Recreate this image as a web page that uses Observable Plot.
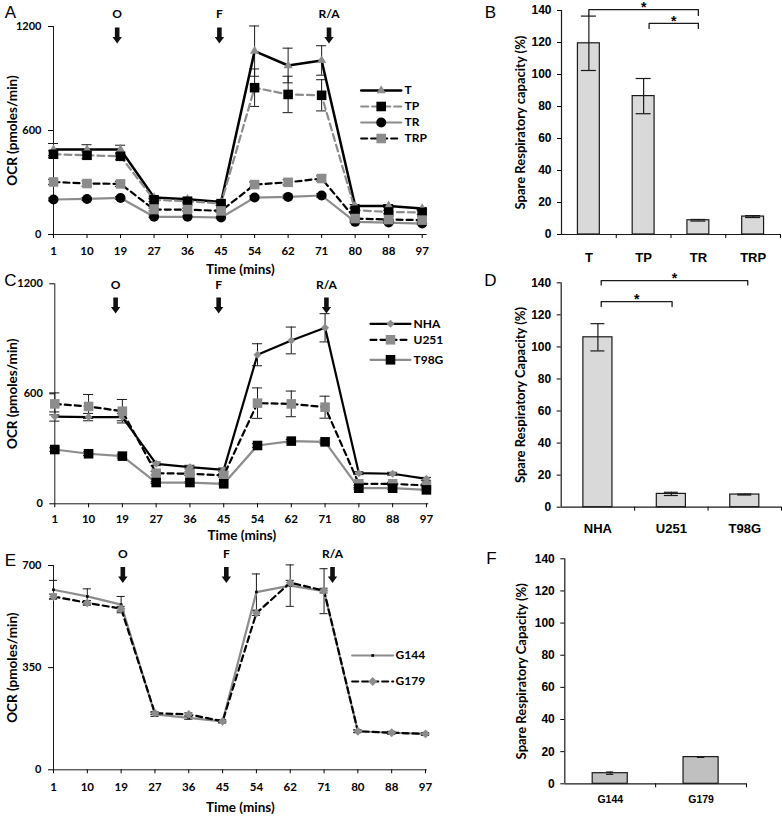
<!DOCTYPE html>
<html><head><meta charset="utf-8">
<script src="https://cdn.jsdelivr.net/npm/d3@7"></script>
<script src="https://cdn.jsdelivr.net/npm/@observablehq/plot@0.6"></script>
<style>
body{margin:0;background:#fff;}
#root{position:relative;width:782px;height:817px;overflow:hidden;background:#fff;}
.panel{position:absolute;}
</style></head><body><div id="root"></div>
<script>
// ---------- DATA ----------
const times = ["1","10","19","27","36","45","54","62","71","80","88","97"];
const arrowLabels = ["O","F","R/A"];

// Panel A
const namesA = ["T","TP","TR","TRP"];
const ocrA_T   = [490,490,490,213,203,188,1058,975,1004,165,165,150];
const ocrA_TP  = [463,457,451,200,192,178,847,808,803,140,130,127];
const ocrA_TR  = [202,205,211,102,102,98,213,217,225,73,69,63];
const ocrA_TRP = [303,294,292,144,144,136,288,301,323,92,86,83];
const errA_T   = [35,28,25,8,8,8,145,100,85,8,8,6];
const errA_TP  = [20,20,20,10,10,10,108,105,90,10,10,10];
const errA_TR  = [8,8,8,5,5,5,10,10,10,5,5,5];
const errA_TRP = [15,15,15,8,8,8,15,15,15,5,5,5];
const arrowPosA = [1.9,4.95,8.22];

// Panel B
const catsB = ["T","TP","TR","TRP"];
const srcB = [119.5,86.5,8.9,11.2];
const errB = [17,11,0.5,0.6];

// Panel C
const namesC = ["NHA","U251","T98G"];
const ocrC_NHA  = [476,473,473,218,200,185,813,891,960,167,164,136];
const ocrC_U251 = [545,531,505,167,164,155,549,545,527,109,109,100];
const ocrC_T98G = [296,273,260,116,116,109,318,342,338,85,85,76];
const errC_NHA  = [25,20,20,10,10,10,60,73,77,8,8,8];
const errC_U251 = [60,65,64,10,10,10,83,70,60,8,8,8];
const errC_T98G = [10,10,10,5,5,5,10,10,10,5,5,5];
const arrowPosC = [1.80,4.85,8.04];

// Panel D
const catsD = ["NHA","U251","T98G"];
const srcD = [106,8.3,7.9];
const errD = [8.5,1,0.3];

// Panel E
const namesE = ["G144","G179"];
const ocrE_G144 = [617,594,566,190,178,166,609,631,612,132,127,123];
const ocrE_G179 = [594,572,552,194,190,166,537,641,614,132,127,123];
const errE_G144 = [32,26,28,7,5,5,62,71,77,5,5,5];
const errE_G179 = [8,8,8,5,5,5,8,8,8,4,4,4];
const arrowPosE = [2.05,5.11,8.25];

// Panel F
const catsF = ["G144","G179"];
const srcF = [6.6,16.6];
const errF = [0.7,0.15];

// ---------- STYLE ----------
const FONT_C = "Lato, 'Open Sans', 'DejaVu Sans', sans-serif";
const FONT_A = "'Liberation Sans', Arial, sans-serif";
const GREY = "#8c8c8c";
const INK = "#1a1a1a";
const downArrow = {draw(ctx){
  ctx.moveTo(-2.3,-8); ctx.lineTo(2.3,-8); ctx.lineTo(2.3,1.5); ctx.lineTo(4.7,1.5);
  ctx.lineTo(0,8); ctx.lineTo(-4.7,1.5); ctx.lineTo(-2.3,1.5); ctx.closePath();
}};

const root = document.getElementById("root");
function place(svg, left, top){
  const d = document.createElement("div");
  d.className = "panel"; d.style.left = left+"px"; d.style.top = top+"px";
  d.appendChild(svg); root.appendChild(d);
}

function linePanel(c){
  const W=c.width, H=c.height;
  const fw = W-c.mL-c.mR, fh = H-c.mT-c.mB;
  const pxX = px => (px-c.mL)/fw*c.xmax;
  const pxY = py => (H-c.mB-py)/fh*c.ymax;
  const idx = d3.range(times.length);
  const marks = [
    Plot.ruleY([0],{stroke:INK,strokeWidth:1}),
    Plot.ruleX([0],{stroke:INK,strokeWidth:1}),
    Plot.axisX({ticks:idx,tickFormat:i=>times[i],tickSize:4,tickPadding:c.xPad,fontSize:11.5,fontWeight:"bold",fontFamily:FONT_C,label:null}),
    Plot.axisY({ticks:c.yticks,tickFormat:d=>String(d),tickSize:5,tickPadding:7,fontSize:11,fontWeight:"bold",fontFamily:FONT_C,label:null})
  ];
  for (const s of c.series){
    marks.push(Plot.ruleX(idx,{x:i=>i,y1:i=>s.values[i]-s.errors[i],y2:i=>s.values[i]+s.errors[i],stroke:INK,strokeWidth:1}));
    for (const sg of [1,-1]) marks.push(Plot.ruleY(idx,{x1:i=>i-c.cap,x2:i=>i+c.cap,y:i=>s.values[i]+sg*s.errors[i],stroke:INK,strokeWidth:1}));
  }
  for (const s of c.series){
    marks.push(Plot.line(idx,{x:i=>i,y:i=>s.values[i],stroke:s.stroke,strokeWidth:s.sw,strokeDasharray:s.dash}));
    marks.push(Plot.dot(idx,{x:i=>i,y:i=>s.values[i],symbol:s.symbol,r:s.r,fill:s.fill,stroke:"none"}));
  }
  // legend
  c.series.forEach((s,k)=>{
    const y = pxY(c.legend.rows[k]);
    marks.push(Plot.line([{x:pxX(c.legend.x0),y},{x:pxX(c.legend.x1),y}],{x:"x",y:"y",stroke:s.stroke,strokeWidth:s.sw,strokeDasharray:s.dash}));
    marks.push(Plot.dot([{x:pxX((c.legend.x0+c.legend.x1)/2),y}],{x:"x",y:"y",symbol:s.symbol,r:s.r,fill:s.fill,stroke:"none"}));
    marks.push(Plot.text([{x:pxX(c.legend.tx),y,t:s.name}],{x:"x",y:"y",text:"t",textAnchor:"start",lineAnchor:"middle",fontSize:12,fontWeight:"bold",fontFamily:FONT_C}));
  });
  // arrows
  const ay = pxY(c.arrowY);
  marks.push(Plot.dot(c.arrows,{x:d=>d,y:()=>ay,symbol:downArrow,r:5,fill:"#111",stroke:"none"}));
  marks.push(Plot.text(c.arrows,{x:d=>d,y:()=>ay,text:(d,i)=>arrowLabels[i],dy:c.labelDy,lineAnchor:"middle",fontSize:12,fontWeight:"bold",fontFamily:FONT_C}));
  // titles
  marks.push(Plot.text(["OCR (pmoles/min)"],{frameAnchor:"left",textAnchor:"middle",lineAnchor:"middle",rotate:-90,dx:c.ytitleX-c.mL,text:d=>d,fontSize:13.5,fontWeight:"bold",fontFamily:FONT_C}));
  marks.push(Plot.text(["Time (mins)"],{frameAnchor:"bottom",textAnchor:"middle",lineAnchor:"middle",dy:c.xtitleDy,text:d=>d,fontSize:13.5,fontWeight:"bold",fontFamily:FONT_C}));
  marks.push(Plot.text([c.letter],{frameAnchor:"top-left",textAnchor:"middle",lineAnchor:"middle",dx:c.letterX-c.mL,dy:c.letterY-c.mT,text:d=>d,fontSize:17,fontFamily:FONT_A}));
  return Plot.plot({width:W,height:H,marginLeft:c.mL,marginRight:c.mR,marginTop:c.mT,marginBottom:c.mB,
    x:{type:"linear",domain:[0,c.xmax]}, y:{type:"linear",domain:[0,c.ymax]},
    style:{background:"transparent",overflow:"visible",color:"#000"}, marks});
}

function barPanel(c){
  const W=c.width,H=c.height,n=c.cats.length, idx=d3.range(n);
  const marks = [
    Plot.rect(idx,{x1:i=>i+0.5-c.half,x2:i=>i+0.5+c.half,y1:()=>0,y2:i=>c.values[i],fill:c.fill,stroke:INK,strokeWidth:1.2}),
    Plot.ruleX(idx,{x:i=>i+0.5,y1:i=>c.values[i]-c.errors[i],y2:i=>c.values[i]+c.errors[i],stroke:INK,strokeWidth:1.2}),
    Plot.ruleY(idx,{x1:i=>i+0.5-c.cap,x2:i=>i+0.5+c.cap,y:i=>c.values[i]+c.errors[i],stroke:INK,strokeWidth:1.2}),
    Plot.ruleY(idx,{x1:i=>i+0.5-c.cap,x2:i=>i+0.5+c.cap,y:i=>c.values[i]-c.errors[i],stroke:INK,strokeWidth:1.2}),
    Plot.ruleY([0],{stroke:INK,strokeWidth:1.2}),
    Plot.ruleX([0],{stroke:INK,strokeWidth:1.2}),
    Plot.axisY({ticks:d3.range(0,141,20),tickSize:4,tickPadding:6,fontSize:12,fontWeight:"bold",fontFamily:FONT_A,label:null}),
    Plot.axisX({ticks:idx.map(i=>i+0.5),tickFormat:d=>c.cats[Math.floor(d)],tickSize:0,tickPadding:c.xPad,fontSize:c.xFont,fontWeight:"bold",fontFamily:FONT_A,label:null}),
    Plot.axisX({ticks:d3.range(1,n+1),tickFormat:()=>"",tickSize:4,label:null})
  ];
  for (const b of c.brackets){
    marks.push(Plot.line([{x:b.x1,y:b.y-b.leg},{x:b.x1,y:b.y},{x:b.x2,y:b.y},{x:b.x2,y:b.y-b.leg}],{x:"x",y:"y",stroke:INK,strokeWidth:1.3}));
  }
  marks.push(Plot.text(c.brackets,{x:b=>(b.x1+b.x2)/2,y:b=>b.y,text:()=>"*",dy:-2,lineAnchor:"middle",fontSize:14,fontWeight:"bold",fontFamily:FONT_A}));
  marks.push(Plot.text([c.ytitle],{frameAnchor:"left",textAnchor:"middle",lineAnchor:"middle",rotate:-90,dx:c.ytitleX-c.mL,text:d=>d,fontSize:13,fontWeight:"bold",fontFamily:FONT_C}));
  marks.push(Plot.text([c.letter],{frameAnchor:"top-left",textAnchor:"middle",lineAnchor:"middle",dx:c.letterX-c.mL,dy:c.letterY-c.mT,text:d=>d,fontSize:17,fontFamily:FONT_A}));
  return Plot.plot({width:W,height:H,marginLeft:c.mL,marginRight:c.mR,marginTop:c.mT,marginBottom:c.mB,
    x:{type:"linear",domain:[0,n]}, y:{type:"linear",domain:[0,140]},
    style:{background:"transparent",overflow:"visible",color:"#000"}, marks});
}

// ---------- PANELS ----------
place(linePanel({width:430,height:278,mL:53,mR:3.3,mT:26,mB:44,xmax:11.15,ymax:1200,yticks:[0,600,1200],xPad:7.9,cap:0.15,
  series:[
    {name:namesA[0],values:ocrA_T,errors:errA_T,stroke:"#000",sw:2.5,dash:null,symbol:"triangle",fill:GREY,r:3.4},
    {name:namesA[1],values:ocrA_TP,errors:errA_TP,stroke:GREY,sw:2.2,dash:"7,4",symbol:"square",fill:"#000",r:5.4},
    {name:namesA[2],values:ocrA_TR,errors:errA_TR,stroke:GREY,sw:2.2,dash:null,symbol:"circle",fill:"#000",r:5},
    {name:namesA[3],values:ocrA_TRP,errors:errA_TRP,stroke:"#000",sw:2.2,dash:"6,4",symbol:"square",fill:GREY,r:5.4}],
  legend:{rows:[90,106,122,138],x0:360.7,x1:400.7,tx:404},
  arrows:arrowPosA,arrowY:35,labelDy:-21,ytitleX:12,xtitleDy:35,letter:"A",letterX:10,letterY:12}),0,0);

place(linePanel({width:430,height:262,mL:54.3,mR:1.7,mT:5.3,mB:36.7,xmax:11.07,ymax:1200,yticks:[0,600,1200],xPad:6.9,cap:0.15,
  series:[
    {name:namesC[0],values:ocrC_NHA,errors:errC_NHA,stroke:"#000",sw:2.2,dash:null,symbol:"diamond2",fill:GREY,r:3.6},
    {name:namesC[1],values:ocrC_U251,errors:errC_U251,stroke:"#000",sw:2.2,dash:"6,4",symbol:"square",fill:GREY,r:5.4},
    {name:namesC[2],values:ocrC_T98G,errors:errC_T98G,stroke:GREY,sw:2.2,dash:null,symbol:"square",fill:"#000",r:5.4}],
  legend:{rows:[45.3,61.3,81.3],x0:370,x1:410,tx:413},
  arrows:arrowPosC,arrowY:27,labelDy:-20,ytitleX:12,xtitleDy:31.7,letter:"C",letterX:10,letterY:2}),0,278);

place(linePanel({width:430,height:277,mL:53,mR:3.3,mT:25,mB:47.7,xmax:11.05,ymax:700,yticks:[0,350,700],xPad:9.3,cap:0.12,
  series:[
    {name:namesE[0],values:ocrE_G144,errors:errE_G144,stroke:GREY,sw:2.2,dash:null,symbol:"square",fill:"#000",r:1.5},
    {name:namesE[1],values:ocrE_G179,errors:errE_G179,stroke:"#000",sw:2.2,dash:"6,4",symbol:"diamond2",fill:GREY,r:4}],
  legend:{rows:[115,141],x0:351.7,x1:392.7,tx:395},
  arrows:arrowPosE,arrowY:34.5,labelDy:-20.5,ytitleX:12,xtitleDy:37.4,letter:"E",letterX:10,letterY:20}),0,540);

place(barPanel({width:352,height:268,mL:131,mR:2,mT:10,mB:34,cats:catsB,values:srcB,errors:errB,fill:"#d9d9d9",half:0.2,cap:0.137,
  xPad:18,xFont:13,ytitle:"Spare Respiratory capacity (%)",ytitleX:90,letter:"B",letterX:60,letterY:12.5,
  brackets:[{x1:0.5,x2:2.5,y:140.6,leg:3.7},{x1:1.6,x2:2.5,y:131.9,leg:3.1}]}),430,0);

place(barPanel({width:352,height:272,mL:130.7,mR:1,mT:14.3,mB:33.3,cats:catsD,values:srcD,errors:errD,fill:"#d9d9d9",half:0.198,cap:0.095,
  xPad:17,xFont:13,ytitle:"Spare Respiratory Capacity (%)",ytitleX:90,letter:"D",letterX:60,letterY:12,
  brackets:[{x1:0.545,x2:1.51,y:128.3,leg:3.1},{x1:0.545,x2:2.54,y:141.4,leg:2.7}]}),430,268);

place(barPanel({width:352,height:277,mL:134.3,mR:36,mT:18.3,mB:33.7,cats:catsF,values:srcF,errors:errF,fill:"#c0c0c0",half:0.193,cap:0.04,
  xPad:12.2,xFont:10.5,ytitle:"Spare Respiratory Capacity (%)",ytitleX:91.7,letter:"F",letterX:61,letterY:18,
  brackets:[]}),430,540);
</script>
</body></html>
